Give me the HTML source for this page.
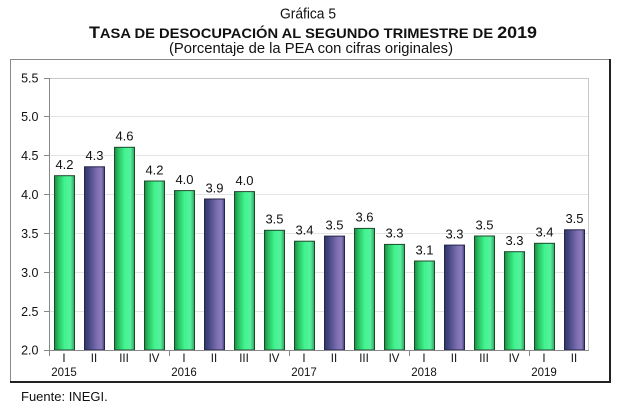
<!DOCTYPE html>
<html><head><meta charset="utf-8"><style>
html,body{margin:0;padding:0;background:#fff;}
svg{display:block;}
text{font-family:"Liberation Sans",Arial,sans-serif;fill:#111;}
</style></head><body>
<svg width="620" height="408" viewBox="0 0 620 408" xmlns="http://www.w3.org/2000/svg">
<defs>
<linearGradient id="g" x1="0" y1="0" x2="1" y2="0">
<stop offset="0" stop-color="#1b8a42"/>
<stop offset="0.18" stop-color="#28bd60"/>
<stop offset="0.5" stop-color="#40f48d"/>
<stop offset="0.8" stop-color="#58f0a0"/>
<stop offset="1" stop-color="#2ca45b"/>
</linearGradient>
<linearGradient id="p" x1="0" y1="0" x2="1" y2="0">
<stop offset="0" stop-color="#2e3566"/>
<stop offset="0.3" stop-color="#4f4f8c"/>
<stop offset="0.65" stop-color="#8070b2"/>
<stop offset="0.85" stop-color="#8c7cbc"/>
<stop offset="1" stop-color="#444478"/>
</linearGradient>
</defs>

<!-- titles -->
<text x="308" y="18.5" font-size="15" text-anchor="middle" textLength="56" lengthAdjust="spacingAndGlyphs">Gráfica 5</text>
<text x="89" y="38" font-weight="bold" textLength="448" lengthAdjust="spacingAndGlyphs"><tspan font-size="17">T</tspan><tspan font-size="14">ASA DE DESOCUPACIÓN AL SEGUNDO TRIMESTRE DE </tspan><tspan font-size="17">2019</tspan></text>
<text x="169" y="53" font-size="14.5" textLength="284" lengthAdjust="spacingAndGlyphs">(Porcentaje de la PEA con cifras originales)</text>

<!-- outer box -->
<rect x="10.5" y="59.5" width="599" height="322" fill="none" stroke="#8a8a8a" stroke-width="1"/>
<line x1="610" y1="59" x2="610" y2="383" stroke="#222" stroke-width="2"/>
<line x1="10" y1="382" x2="611" y2="382" stroke="#222" stroke-width="2"/>

<!-- grid -->
<g stroke="#e4e4e4" stroke-width="1">
<line x1="49" y1="116.5" x2="589" y2="116.5"/>
<line x1="49" y1="155.5" x2="589" y2="155.5"/>
<line x1="49" y1="194.5" x2="589" y2="194.5"/>
<line x1="49" y1="233.5" x2="589" y2="233.5"/>
<line x1="49" y1="272.5" x2="589" y2="272.5"/>
<line x1="49" y1="311.5" x2="589" y2="311.5"/>
</g>
<line x1="49" y1="78.5" x2="589" y2="78.5" stroke="#c8c8c8"/>
<line x1="588.5" y1="78" x2="588.5" y2="350" stroke="#c8c8c8"/>

<!-- bars -->
<g stroke-width="1">
<rect x="54.5" y="175.7" width="20" height="174.3" fill="url(#g)" stroke="#1d4a2b"/>
<rect x="84.5" y="166.8" width="20" height="183.2" fill="url(#p)" stroke="#25264a"/>
<rect x="114.5" y="147.3" width="20" height="202.7" fill="url(#g)" stroke="#1d4a2b"/>
<rect x="144.5" y="181.0" width="20" height="169.0" fill="url(#g)" stroke="#1d4a2b"/>
<rect x="174.5" y="190.6" width="20" height="159.4" fill="url(#g)" stroke="#1d4a2b"/>
<rect x="204.5" y="199.0" width="20" height="151.0" fill="url(#p)" stroke="#25264a"/>
<rect x="234.5" y="191.6" width="20" height="158.4" fill="url(#g)" stroke="#1d4a2b"/>
<rect x="264.5" y="230.3" width="20" height="119.7" fill="url(#g)" stroke="#1d4a2b"/>
<rect x="294.5" y="241.2" width="20" height="108.8" fill="url(#g)" stroke="#1d4a2b"/>
<rect x="324.5" y="236.1" width="20" height="113.9" fill="url(#p)" stroke="#25264a"/>
<rect x="354.5" y="228.4" width="20" height="121.6" fill="url(#g)" stroke="#1d4a2b"/>
<rect x="384.5" y="244.4" width="20" height="105.6" fill="url(#g)" stroke="#1d4a2b"/>
<rect x="414.5" y="261.0" width="20" height="89.0" fill="url(#g)" stroke="#1d4a2b"/>
<rect x="444.5" y="245.1" width="20" height="104.9" fill="url(#p)" stroke="#25264a"/>
<rect x="474.5" y="236.0" width="20" height="114.0" fill="url(#g)" stroke="#1d4a2b"/>
<rect x="504.5" y="251.7" width="20" height="98.3" fill="url(#g)" stroke="#1d4a2b"/>
<rect x="534.5" y="243.3" width="20" height="106.7" fill="url(#g)" stroke="#1d4a2b"/>
<rect x="564.5" y="229.8" width="20" height="120.2" fill="url(#p)" stroke="#25264a"/>
</g>

<!-- axes -->
<line x1="49.5" y1="78" x2="49.5" y2="350" stroke="#888"/>
<line x1="49" y1="350.5" x2="589" y2="350.5" stroke="#888"/>
<g stroke="#888">
<line x1="44" y1="78.5" x2="49" y2="78.5"/>
<line x1="44" y1="116.5" x2="49" y2="116.5"/>
<line x1="44" y1="155.5" x2="49" y2="155.5"/>
<line x1="44" y1="194.5" x2="49" y2="194.5"/>
<line x1="44" y1="233.5" x2="49" y2="233.5"/>
<line x1="44" y1="272.5" x2="49" y2="272.5"/>
<line x1="44" y1="311.5" x2="49" y2="311.5"/>
<line x1="44" y1="350.5" x2="49" y2="350.5"/>
<line x1="49.5" y1="350" x2="49.5" y2="356"/>
<line x1="169.5" y1="350" x2="169.5" y2="356"/>
<line x1="289.5" y1="350" x2="289.5" y2="356"/>
<line x1="409.5" y1="350" x2="409.5" y2="356"/>
<line x1="529.5" y1="350" x2="529.5" y2="356"/>
</g>

<!-- y labels -->
<g font-size="12.5" text-anchor="end">
<text x="38.5" y="82.5">5.5</text>
<text x="38.5" y="121">5.0</text>
<text x="38.5" y="160">4.5</text>
<text x="38.5" y="199">4.0</text>
<text x="38.5" y="238">3.5</text>
<text x="38.5" y="277">3.0</text>
<text x="38.5" y="316">2.5</text>
<text x="38.5" y="354.5">2.0</text>
</g>

<!-- data labels -->
<g font-size="13" text-anchor="middle">
<text x="64.5" y="169">4.2</text>
<text x="94.5" y="160">4.3</text>
<text x="124.5" y="140.5">4.6</text>
<text x="154.5" y="174.5">4.2</text>
<text x="184.5" y="184">4.0</text>
<text x="214.5" y="192.5">3.9</text>
<text x="244.5" y="185">4.0</text>
<text x="274.5" y="223.5">3.5</text>
<text x="304.5" y="234.5">3.4</text>
<text x="334.5" y="229.5">3.5</text>
<text x="364.5" y="221.5">3.6</text>
<text x="394.5" y="237.5">3.3</text>
<text x="424.5" y="254.5">3.1</text>
<text x="454.5" y="238.5">3.3</text>
<text x="484.5" y="229.5">3.5</text>
<text x="514.5" y="245">3.3</text>
<text x="544.5" y="236.5">3.4</text>
<text x="574.5" y="223">3.5</text>
</g>

<!-- x labels -->
<g font-size="11.5" text-anchor="middle">
<text x="64" y="362">I</text>
<text x="94" y="362">II</text>
<text x="124" y="362">III</text>
<text x="154" y="362">IV</text>
<text x="184" y="362">I</text>
<text x="214" y="362">II</text>
<text x="244" y="362">III</text>
<text x="274" y="362">IV</text>
<text x="304" y="362">I</text>
<text x="334" y="362">II</text>
<text x="364" y="362">III</text>
<text x="394" y="362">IV</text>
<text x="424" y="362">I</text>
<text x="454" y="362">II</text>
<text x="484" y="362">III</text>
<text x="514" y="362">IV</text>
<text x="544" y="362">I</text>
<text x="574" y="362">II</text>
<text x="64" y="376">2015</text>
<text x="184" y="376">2016</text>
<text x="304" y="376">2017</text>
<text x="424" y="376">2018</text>
<text x="544" y="376">2019</text>
</g>

<text x="21" y="401" font-size="13">Fuente: INEGI.</text>
</svg>
</body></html>
